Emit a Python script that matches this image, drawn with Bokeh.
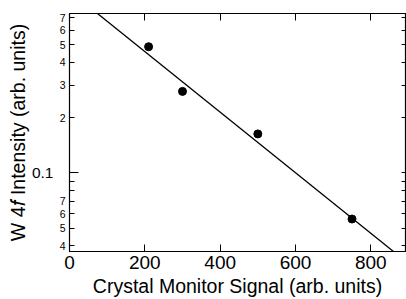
from bokeh.plotting import figure
from bokeh.models import (FixedTicker, LinearAxis, LogAxis, Range1d)
from bokeh.embed import file_html
from bokeh.resources import INLINE

# ---- data ----
signal = [210, 300, 500, 750]
intensity = [0.487, 0.278, 0.163, 0.056]
fit_x = [0, 900]
fit_y = [0.980, 0.0320]

x_ticks = [0, 200, 400, 600, 800]
y_ticks = [0.04, 0.05, 0.06, 0.07, 0.08, 0.09, 0.2, 0.3, 0.4, 0.5, 0.6, 0.7]
y_tick_labels = ["4", "5", "6", "7", "", "", "2", "3", "4", "5", "6", "7"]
y_decade = [0.1]

FONT = "Liberation Sans"

p = figure(width=406, height=299, output_backend="svg", toolbar_location=None,
           y_axis_type="log",
           x_range=Range1d(0, 892), y_range=Range1d(0.03725, 0.739),
           min_border_left=69, min_border_right=1, min_border_top=13, min_border_bottom=47)
p.xgrid.visible = False
p.ygrid.visible = False
p.outline_line_color = "black"
p.outline_line_width = 1.2
p.background_fill_color = "white"
p.border_fill_color = "white"

# data
p.line(fit_x, fit_y, line_color="black", line_width=1.3)
p.scatter(signal, intensity, size=8, marker="circle", fill_color="black", line_color="black")

# bottom axis
xa = p.xaxis[0]
xa.ticker = FixedTicker(ticks=x_ticks)
xa.major_tick_in = 7
xa.major_tick_out = 0
xa.minor_tick_in = 0
xa.minor_tick_out = 0
xa.axis_line_color = "black"
xa.major_label_text_font = FONT
xa.major_label_text_font_size = "19px"
xa.major_label_text_color = "black"
xa.major_label_standoff = 4
xa.axis_label = "Crystal Monitor Signal (arb. units)"
xa.axis_label_text_font = FONT
xa.axis_label_text_font_size = "19.5px"
xa.axis_label_text_font_style = "normal"
xa.axis_label_text_color = "black"
xa.axis_label_standoff = 3

# inner left axis: small digits
ya = p.yaxis[0]
ya.ticker = FixedTicker(ticks=y_ticks, minor_ticks=y_decade)
ya.major_label_overrides = {t: l for t, l in zip(y_ticks, y_tick_labels)}
ya.major_tick_in = 5
ya.major_tick_out = 0
ya.minor_tick_in = 9
ya.minor_tick_out = 0
ya.minor_tick_line_color = "black"
ya.axis_line_color = "black"
ya.major_label_text_font = FONT
ya.major_label_text_font_size = "10.5px"
ya.major_label_text_color = "black"
ya.major_label_standoff = 4

# outer left axis: decade label and the axis title
yb = LogAxis(ticker=FixedTicker(ticks=y_decade),
             major_label_overrides={0.1: "0.1"},
             major_tick_in=0, major_tick_out=0, minor_tick_in=0, minor_tick_out=0,
             axis_line_color=None,
             major_label_text_font=FONT, major_label_text_font_size="15.5px",
             major_label_text_color="black", major_label_standoff=3,
             axis_label="W 4\U0001D453 Intensity (arb. units)",
             axis_label_text_font=FONT, axis_label_text_font_size="19.5px",
             axis_label_text_font_style="normal", axis_label_text_color="black",
             axis_label_standoff=0)
p.add_layout(yb, "left")

# mirrored ticks (minor ticks only, so no labels)
xt = LinearAxis(ticker=FixedTicker(ticks=[], minor_ticks=x_ticks[1:]),
                major_tick_in=0, major_tick_out=0,
                minor_tick_in=7, minor_tick_out=0, minor_tick_line_color="black",
                axis_line_color="black", major_label_standoff=0)
p.add_layout(xt, "above")
yr = LogAxis(ticker=FixedTicker(ticks=[], minor_ticks=y_ticks + y_decade),
             major_tick_in=0, major_tick_out=0,
             minor_tick_in=4, minor_tick_out=0, minor_tick_line_color="black",
             axis_line_color="black", major_label_standoff=0)
p.add_layout(yr, "right")

open("out.html", "w").write(file_html(p, INLINE))
